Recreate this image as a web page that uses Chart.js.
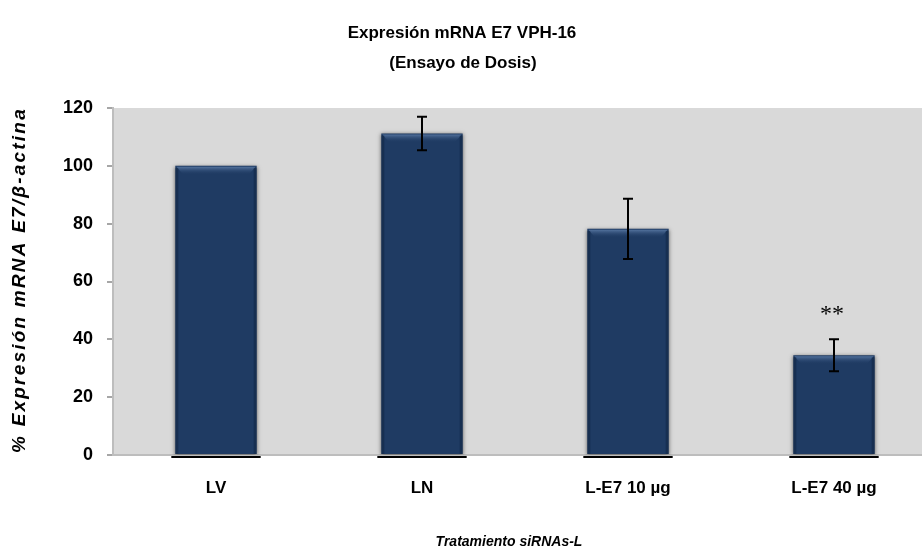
<!DOCTYPE html>
<html>
<head>
<meta charset="utf-8">
<script src="https://cdn.jsdelivr.net/npm/chart.js@4"></script>
<style>
  html, body { margin: 0; padding: 0; background: #ffffff; overflow: hidden; }
  #wrap { width: 940px; height: 553px; }
</style>
</head>
<body>
<div id="wrap"><canvas id="chart" width="940" height="553"></canvas></div>
<script>
// Treatments and measured relative expression (%), with standard deviations
const categories = ['LV', 'LN', 'L-E7 10 µg', 'L-E7 40 µg'];
const expression = [100, 111.2, 78.2, 34.5];
const errors = [0, 5.8, 10.4, 5.5];
const significance = ['', '', '', '**'];
const yTicks = [0, 20, 40, 60, 80, 100, 120];

const titleLines = ['Expresión mRNA E7 VPH-16', '(Ensayo de Dosis)'];
const yTitle = '% Expresión mRNA E7/β-actina';
const xTitle = 'Tratamiento siRNAs-L';

const BAR = 'rgb(31,59,99)';
const SANS = '"Liberation Sans", Arial, sans-serif';

// Grey plotting area behind the bars
const plotBackground = {
  id: 'plotBackground',
  beforeDraw(chart) {
    const { ctx, chartArea: a } = chart;
    ctx.save();
    ctx.fillStyle = '#d9d9d9';
    ctx.fillRect(a.left, a.top, a.right - a.left, a.bottom - a.top);
    ctx.restore();
  }
};

// Soft drop shadow around the bars
const barShadow = {
  id: 'barShadow',
  beforeDatasetsDraw(chart) {
    const ctx = chart.ctx;
    ctx.save();
    ctx.shadowColor = 'rgba(0,0,0,0.55)';
    ctx.shadowBlur = 4;
    ctx.shadowOffsetX = 0;
    ctx.shadowOffsetY = 1;
  },
  afterDatasetsDraw(chart) {
    chart.ctx.restore();
  }
};

// Bevel highlight, base lines, error bars and significance marks
const barDecor = {
  id: 'barDecor',
  afterDatasetsDraw(chart) {
    const ctx = chart.ctx;
    const y = chart.scales.y;
    const meta = chart.getDatasetMeta(0);
    ctx.save();
    meta.data.forEach((bar, i) => {
      const half = bar.width / 2;
      const x0 = bar.x - half, x1 = bar.x + half;
      const top = bar.y;
      // lighter bevelled top edge
      const g = ctx.createLinearGradient(0, top, 0, top + 9);
      g.addColorStop(0, 'rgb(96,128,172)');
      g.addColorStop(1, 'rgba(31,59,99,0)');
      ctx.fillStyle = g;
      ctx.beginPath();
      ctx.moveTo(x0 + 1, top + 1);
      ctx.lineTo(x1 - 1, top + 1);
      ctx.lineTo(x1 - 8, top + 9);
      ctx.lineTo(x0 + 8, top + 9);
      ctx.closePath();
      ctx.fill();
      // darker side edges
      ctx.fillStyle = 'rgba(10,25,50,0.35)';
      ctx.fillRect(x0, top + 2, 3, bar.base - top - 2);
      ctx.fillRect(x1 - 3, top + 2, 3, bar.base - top - 2);
      // black base line under each bar
      ctx.fillStyle = '#000000';
      ctx.fillRect(x0 - 4, bar.base + 2, bar.width + 8, 2);
      // error bar
      if (errors[i] > 0) {
        const yh = y.getPixelForValue(expression[i] + errors[i]);
        const yl = y.getPixelForValue(expression[i] - errors[i]);
        ctx.strokeStyle = '#000000';
        ctx.lineWidth = 2;
        ctx.beginPath();
        ctx.moveTo(bar.x, yh); ctx.lineTo(bar.x, yl);
        ctx.moveTo(bar.x - 5, yh); ctx.lineTo(bar.x + 5, yh);
        ctx.moveTo(bar.x - 5, yl); ctx.lineTo(bar.x + 5, yl);
        ctx.stroke();
      }
      // significance marker
      if (significance[i]) {
        const yh = y.getPixelForValue(expression[i] + errors[i]);
        ctx.fillStyle = '#000000';
        ctx.font = '24px "Liberation Serif", "DejaVu Serif", serif';
        ctx.textAlign = 'center';
        ctx.textBaseline = 'middle';
        ctx.fillText(significance[i], bar.x - 2, yh - 25);
      }
    });
    ctx.restore();
  }
};

// Chart title and axis titles
const chartTexts = {
  id: 'chartTexts',
  afterDraw(chart) {
    const ctx = chart.ctx;
    ctx.save();
    ctx.fillStyle = '#000000';
    ctx.textAlign = 'center';
    ctx.textBaseline = 'middle';

    ctx.font = 'bold 17px ' + SANS;
    ctx.fillText(titleLines[0], 462, 33);
    ctx.fillText(titleLines[1], 463, 63);

    ctx.font = 'italic bold 14px ' + SANS;
    ctx.fillText(xTitle, 509, 542);

    ctx.translate(20, 280);
    ctx.rotate(-Math.PI / 2);
    ctx.font = 'italic bold 19px ' + SANS;
    if ('letterSpacing' in ctx) ctx.letterSpacing = '2.2px';
    ctx.fillText(yTitle, 0, 0);
    ctx.restore();
  }
};

new Chart(document.getElementById('chart'), {
  type: 'bar',
  data: {
    labels: categories,
    datasets: [{
      data: expression,
      backgroundColor: BAR,
      borderWidth: 0,
      categoryPercentage: 1,
      barPercentage: 0.395
    }]
  },
  options: {
    responsive: false,
    animation: false,
    events: [],
    layout: { padding: { left: 0, right: 3, top: 108, bottom: 0 } },
    plugins: {
      legend: { display: false },
      tooltip: { enabled: false },
      title: { display: false }
    },
    scales: {
      x: {
        grid: { display: false },
        border: { display: true, color: '#bdbdbd', width: 2 },
        ticks: {
          color: '#000000',
          padding: 15,
          font: { family: SANS, size: 17, weight: 'bold' }
        },
        afterFit(scale) { scale.height = 98; }
      },
      y: {
        min: 0,
        max: 120,
        afterBuildTicks(scale) { scale.ticks = yTicks.map(v => ({ value: v })); },
        grid: {
          drawOnChartArea: false,
          drawTicks: true,
          tickLength: 6,
          color: '#a6a6a6',
          lineWidth: 2
        },
        border: { display: true, color: '#bdbdbd', width: 2 },
        ticks: {
          color: '#000000',
          padding: 14,
          font: { family: SANS, size: 18, weight: 'bold' }
        },
        afterFit(scale) { scale.width = 113; }
      }
    }
  },
  plugins: [plotBackground, barShadow, barDecor, chartTexts]
});
</script>
</body>
</html>
